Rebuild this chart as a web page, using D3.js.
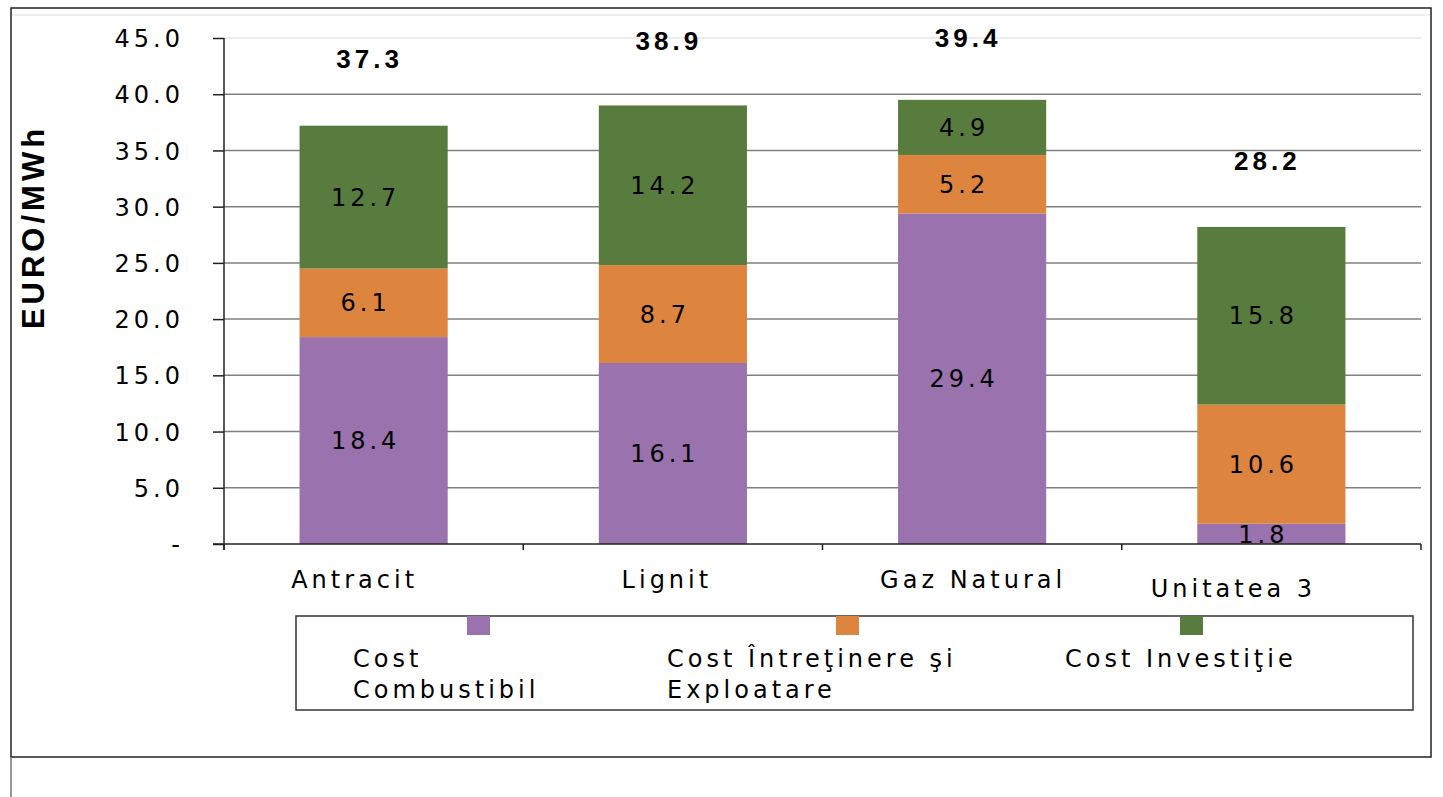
<!DOCTYPE html>
<html>
<head>
<meta charset="utf-8">
<script src="https://cdn.jsdelivr.net/npm/d3@7"></script>
<style>
  body { margin: 0; background: #fff; }
  text { font-family: "DejaVu Sans", Verdana, sans-serif; fill: #000; }
</style>
</head>
<body>
<svg id="chart"></svg>
<script>
// chart data
const categories = ["Antracit", "Lignit", "Gaz Natural", "Unitatea 3"];
const seriesNames = ["Cost Combustibil", "Cost Întreţinere şi Exploatare", "Cost Investiţie"];
const costCombustibil = [18.4, 16.1, 29.4, 1.8];
const costExploatare = [6.1, 8.7, 5.2, 10.6];
const costInvestitie = [12.7, 14.2, 4.9, 15.8];
const totals = [37.3, 38.9, 39.4, 28.2];
const yTicks = [0, 5, 10, 15, 20, 25, 30, 35, 40, 45];
const legendLines = [["Cost", "Combustibil"], ["Cost Întreţinere şi", "Exploatare"], ["Cost Investiţie"]];

const colors = ["#9972ae", "#dd843f", "#587c3e"];

const width = 1443, height = 797;
const svg = d3.select("#chart").attr("width", width).attr("height", height);

// outer frame
svg.append("rect")
  .attr("x", 11).attr("y", 8).attr("width", 1420).attr("height", 749)
  .attr("fill", "none").attr("stroke", "#222").attr("stroke-width", 1.5);
svg.append("line").attr("x1", 12).attr("x2", 1430).attr("y1", 15).attr("y2", 15)
  .attr("stroke", "#ddd").attr("stroke-width", 1);
svg.append("line").attr("x1", 11).attr("x2", 11).attr("y1", 757).attr("y2", 797)
  .attr("stroke", "#777").attr("stroke-width", 1.5);

const plot = { left: 224, right: 1421, top: 38, bottom: 544 };

const x = d3.scaleBand().domain(categories).range([plot.left, plot.right]).paddingInner(0);
const barW = x.bandwidth() * 0.495;
const y = d3.scaleLinear().domain([0, 45]).range([plot.bottom, plot.top]);

// gridlines
svg.append("g").selectAll("line")
  .data(yTicks.filter(d => d > 0))
  .join("line")
  .attr("x1", plot.left).attr("x2", plot.right)
  .attr("y1", d => y(d)).attr("y2", d => y(d))
  .attr("stroke", d => d === 45 ? "#e6e6e6" : "#808080")
  .attr("stroke-width", 1.5);

// stacked bars
const rows = categories.map((c, i) => ({
  cat: c, fuel: costCombustibil[i], om: costExploatare[i], inv: costInvestitie[i]
}));
const stack = d3.stack().keys(["fuel", "om", "inv"]);
const layers = stack(rows);

const layerG = svg.append("g").selectAll("g")
  .data(layers)
  .join("g")
  .attr("fill", (d, i) => colors[i]);

layerG.selectAll("rect")
  .data(d => d)
  .join("rect")
  .attr("x", d => x(d.data.cat) + (x.bandwidth() - barW) / 2)
  .attr("width", barW)
  .attr("y", d => y(d[1]))
  .attr("height", d => y(d[0]) - y(d[1]));

// segment labels
svg.append("g").selectAll("g")
  .data(layers)
  .join("g")
  .selectAll("text")
  .data(d => d.map(s => ({ s, key: d.key })))
  .join("text")
  .attr("x", d => x(d.s.data.cat) + x.bandwidth() / 2 - 8)
  .attr("y", d => y((d.s[0] + d.s[1]) / 2))
  .attr("dy", "0.36em")
  .attr("text-anchor", "middle")
  .attr("font-size", 24)
  .attr("letter-spacing", 4)
  .text(d => d3.format(".1f")(d.s.data[d.key]));

// totals
svg.append("g").selectAll("text")
  .data(totals)
  .join("text")
  .attr("x", (d, i) => x(categories[i]) + x.bandwidth() / 2 - 4)
  .attr("y", d => y(Math.min(d + 5.9, 45)))
  .attr("dy", "0.36em")
  .attr("text-anchor", "middle")
  .style("font-family", "'Liberation Sans', Arial, sans-serif")
  .attr("font-weight", "bold")
  .attr("font-size", 26)
  .attr("letter-spacing", 4)
  .text(d => d3.format(".1f")(d));

// y axis
const yAxis = svg.append("g")
  .attr("transform", `translate(${plot.left},0)`)
  .call(d3.axisLeft(y).tickValues(yTicks).tickSize(11).tickPadding(0)
    .tickFormat(d => d === 0 ? "-" : d3.format(".1f")(d)));
yAxis.select(".domain").attr("d", `M0,${plot.top}V${plot.bottom + 6}`).attr("stroke", "#222").attr("stroke-width", 1.5);
yAxis.selectAll(".tick line").attr("stroke", "#222").attr("stroke-width", 1.5);
yAxis.selectAll(".tick text")
  .attr("x", -40)
  .attr("dy", "0.36em")
  .attr("font-size", 24)
  .attr("letter-spacing", 4)
  .attr("fill", "#000")
  .style("font-family", "'DejaVu Sans', Verdana, sans-serif");

// x axis
svg.append("line")
  .attr("x1", plot.left - 11).attr("x2", plot.right)
  .attr("y1", plot.bottom).attr("y2", plot.bottom)
  .attr("stroke", "#222").attr("stroke-width", 1.5);
const boundaries = categories.map(c => x(c)).concat([plot.right]);
svg.append("g").selectAll("line")
  .data(boundaries)
  .join("line")
  .attr("x1", d => d).attr("x2", d => d)
  .attr("y1", plot.bottom).attr("y2", plot.bottom + 6)
  .attr("stroke", "#222").attr("stroke-width", 1.5);

// category labels (Excel places these slightly off centre)
const labelShift = [-19, -6, 1, -38];
const labelDrop = [0, 0, 0, 9];
svg.append("g").selectAll("text")
  .data(categories)
  .join("text")
  .attr("x", (d, i) => x(d) + x.bandwidth() / 2 + labelShift[i])
  .attr("y", (d, i) => 588 + labelDrop[i])
  .attr("text-anchor", "middle")
  .attr("font-size", 24)
  .attr("letter-spacing", 4)
  .text(d => d);

// y axis title
svg.append("text")
  .attr("transform", "translate(44,227) rotate(-90)")
  .attr("text-anchor", "middle")
  .style("font-family", "'Liberation Sans', Arial, sans-serif")
  .attr("font-weight", "bold")
  .attr("font-size", 31)
  .attr("letter-spacing", 4)
  .text("EURO/MWh");

// legend
const legend = svg.append("g");
legend.append("rect")
  .attr("x", 296).attr("y", 616).attr("width", 1117).attr("height", 94)
  .attr("fill", "#fff").attr("stroke", "#333").attr("stroke-width", 1.5);
const markerX = [467, 836, 1180];
const textX = [353, 667, 1065];
seriesNames.forEach((name, i) => {
  legend.append("rect")
    .attr("x", markerX[i]).attr("y", 616).attr("width", 23).attr("height", 19)
    .attr("fill", colors[i]);
  const t = legend.append("text")
    .attr("x", textX[i]).attr("y", 667)
    .attr("font-size", 24)
    .attr("letter-spacing", 4);
  legendLines[i].forEach((ln, j) => {
    t.append("tspan").attr("x", textX[i]).attr("dy", j === 0 ? 0 : 31).text(ln);
  });
});
</script>
</body>
</html>
